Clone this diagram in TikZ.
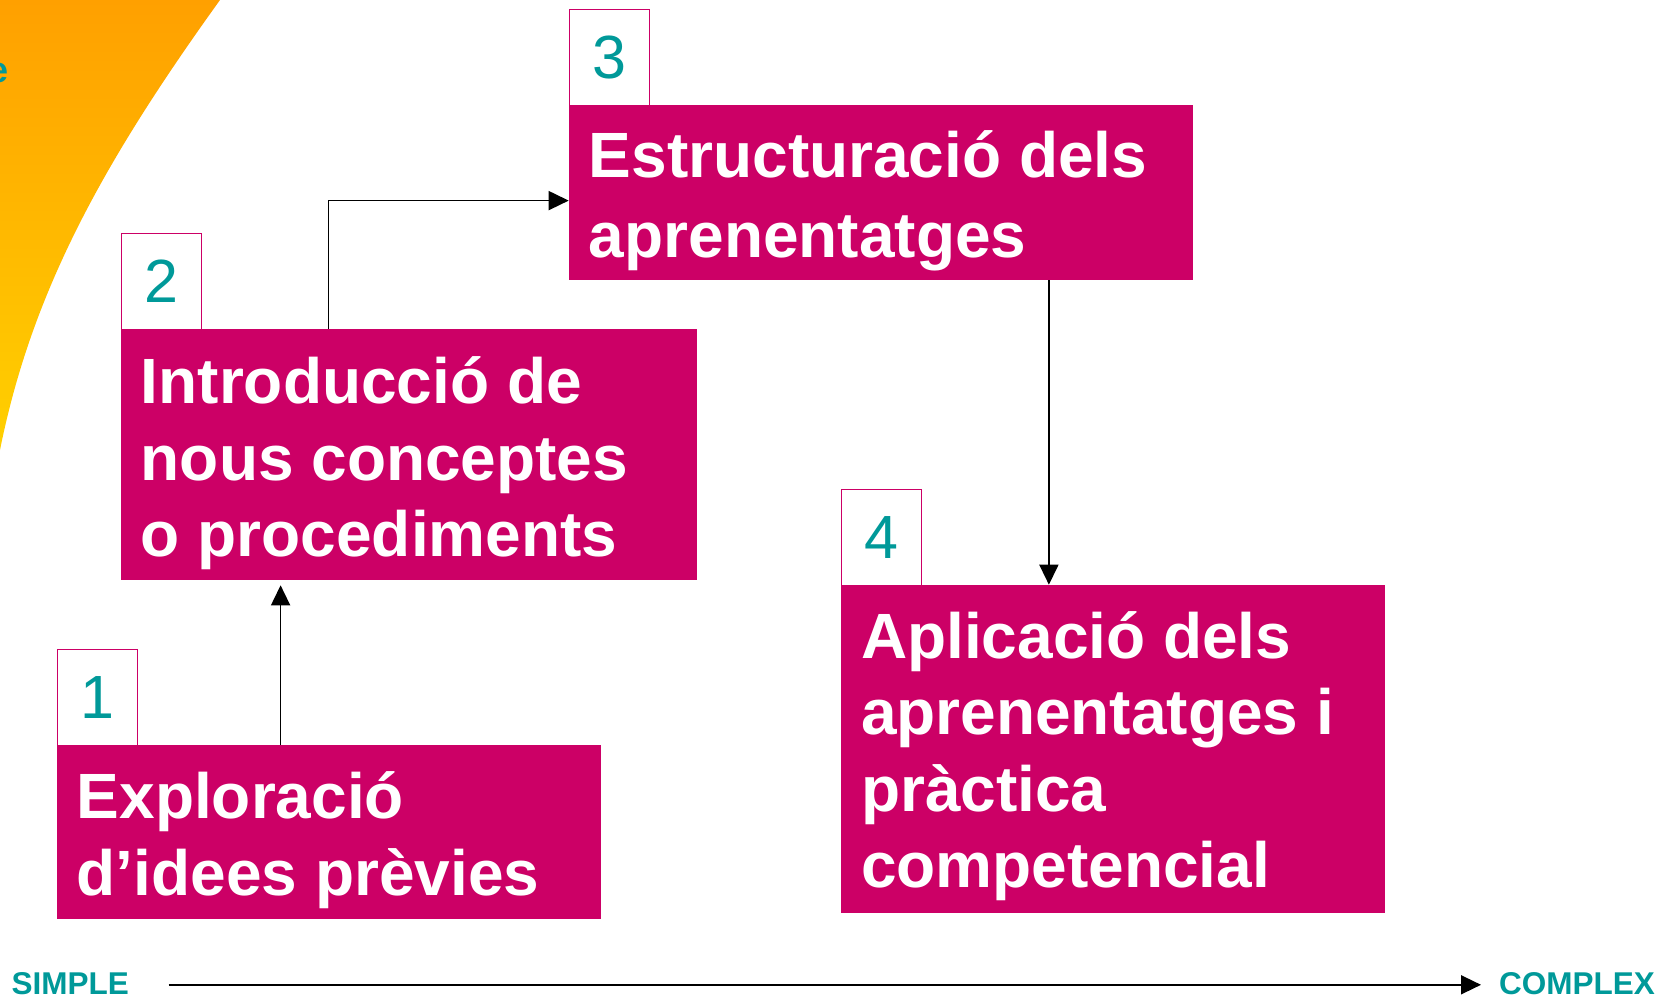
\documentclass[tikz,border=0pt]{standalone}
\usepackage{fontspec}
\setmainfont{Liberation Sans}
\usetikzlibrary{arrows.meta}
\definecolor{mag}{HTML}{CC0066}
\definecolor{teal}{HTML}{009999}
\definecolor{orangetop}{HTML}{FFA000}
\definecolor{orangebot}{HTML}{FFD000}
\tikzset{
  stagebox/.style={fill=mag, draw=none, inner sep=0pt, anchor=north west},
  numbox/.style={fill=white, draw=mag, line width=1.6pt, inner sep=0pt, anchor=north west,
    minimum width=80pt, minimum height=96pt, text=teal,
    font=\fontsize{61}{61}\selectfont},
  stagetext/.style={anchor=base west, inner sep=0pt, text=white,
    font=\fontsize{64}{76.5}\selectfont\bfseries},
  conn/.style={draw=black, line width=1.6pt, -{Triangle[length=20pt,width=19pt]}},
  axislabel/.style={text=teal, font=\fontsize{31.5}{31.5}\selectfont\bfseries, inner sep=0pt, anchor=base west}
}
\begin{document}
\begin{tikzpicture}[x=1pt,y=-1pt]
\useasboundingbox (0,0) rectangle (1673,999);
\clip (0,0) rectangle (1673,999);
% orange corner
\shade[top color=orangetop, bottom color=orangebot]
  (0,0) -- (220,0) .. controls (104.8,160) and (32,290) .. (0,450) -- cycle;
\node[text=teal, font=\fontsize{36}{36}\selectfont\bfseries, inner sep=0pt, anchor=base east] (etxt) at (9,82) {e};

% stage boxes
\node[stagebox, minimum width=544.1pt, minimum height=173.9pt] (s1) at (56.6,744.8) {};
\node[stagebox, minimum width=576.1pt, minimum height=250.8pt] (s2) at (120.6,328.6) {};
\node[stagebox, minimum width=624.2pt, minimum height=175pt] (s3) at (568.7,104.6) {};
\node[stagebox, minimum width=544.2pt, minimum height=327.6pt] (s4) at (840.8,584.7) {};

% number boxes
\node[numbox] (n1) at (56.6,648.7) {1};
\node[numbox] (n2) at (120.6,232.7) {2};
\node[numbox] (n3) at (568.7,8.7) {3};
\node[numbox] (n4) at (840.8,488.7) {4};

% texts
\node[stagetext] (t1) at (76.6,818.5) {\parbox[t]{520pt}{\raggedright Exploració\\d’idees prèvies}};
\node[stagetext] (t2) at (140.6,403.5) {\parbox[t]{550pt}{\raggedright Introducció de\\nous conceptes\\o procediments}};
\node[stagetext] (t3) at (588.7,177.3) {\parbox[t]{600pt}{\raggedright\baselineskip=80.5pt Estructuració dels\\aprenentatges}};
\node[stagetext] (t4) at (860.8,658.3) {\parbox[t]{520pt}{\raggedright Aplicació dels\\aprenentatges i\\pràctica\\competencial}};

% connectors
\draw[conn, shorten >=5.5pt] (s1.north -| 280.6,0) -- (s2.south -| 280.6,0);
\draw[conn] (s2.north -| 328.6,0) |- (s3.west |- 0,200.6);
\draw[conn] (s3.south -| 1048.9,0) -- (s4.north -| 1048.9,0);

% axis
\node[axislabel] (simple) at (11.5,994) {SIMPLE};
\node[axislabel] (complex) at (1499,994) {COMPLEX};
\coordinate (ax1) at (168.6,984.8);
\coordinate (ax2) at (1481,984.8);
\draw[conn] (ax1) -- (ax2);
\end{tikzpicture}
\end{document}
